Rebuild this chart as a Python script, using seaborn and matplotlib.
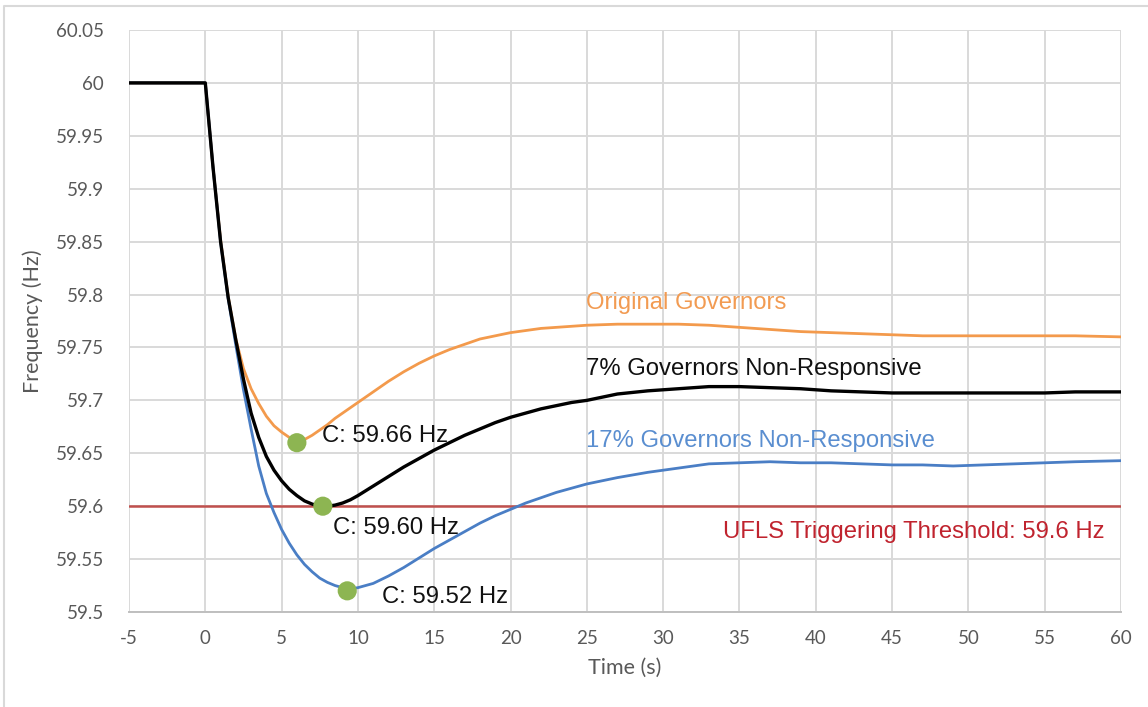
import matplotlib
matplotlib.use("Agg")
import matplotlib.pyplot as plt
from matplotlib.lines import Line2D
import numpy as np
import pandas as pd
import seaborn as sns

# Simulated frequency response after a generation trip
time_s = [-5, 0, 0.5, 1, 1.5, 2, 2.5, 3, 3.5, 4, 4.5, 5, 5.5, 6, 6.5, 7, 7.5, 8,
          8.5, 9, 9.5, 10, 11, 12, 13, 14, 15, 16, 17, 18, 19, 20, 21, 22, 23,
          24, 25, 27, 29, 31, 33, 35, 37, 39, 41, 43, 45, 47, 49, 51, 53, 55,
          57, 60]

freq_original = [60.0, 60.0, 59.921, 59.852, 59.798, 59.758, 59.730, 59.711,
                 59.697, 59.685, 59.676, 59.670, 59.665, 59.662, 59.663, 59.667,
                 59.672, 59.677, 59.683, 59.688, 59.693, 59.698, 59.708, 59.718,
                 59.727, 59.735, 59.742, 59.748, 59.753, 59.758, 59.761, 59.764,
                 59.766, 59.768, 59.769, 59.770, 59.771, 59.772, 59.772, 59.772,
                 59.771, 59.769, 59.767, 59.765, 59.764, 59.763, 59.762, 59.761,
                 59.761, 59.761, 59.761, 59.761, 59.761, 59.760]

freq_7pct = [60.0, 60.0, 59.921, 59.850, 59.797, 59.757, 59.720, 59.688, 59.665,
             59.647, 59.634, 59.624, 59.616, 59.610, 59.605, 59.602, 59.600,
             59.600, 59.601, 59.603, 59.606, 59.610, 59.619, 59.628, 59.637,
             59.645, 59.653, 59.660, 59.667, 59.673, 59.679, 59.684, 59.688,
             59.692, 59.695, 59.698, 59.700, 59.706, 59.709, 59.711, 59.713,
             59.713, 59.712, 59.711, 59.709, 59.708, 59.707, 59.707, 59.707,
             59.707, 59.707, 59.707, 59.708, 59.708]

freq_17pct = [60.0, 60.0, 59.921, 59.850, 59.796, 59.752, 59.710, 59.673, 59.638,
              59.612, 59.594, 59.578, 59.565, 59.554, 59.545, 59.538, 59.532,
              59.528, 59.525, 59.523, 59.522, 59.523, 59.527, 59.534, 59.542,
              59.551, 59.560, 59.568, 59.576, 59.584, 59.591, 59.597, 59.603,
              59.608, 59.613, 59.617, 59.621, 59.627, 59.632, 59.636, 59.640,
              59.641, 59.642, 59.641, 59.641, 59.640, 59.639, 59.639, 59.638,
              59.639, 59.640, 59.641, 59.642, 59.643]

series_names = ["Original Governors", "7% Governors Non-Responsive",
                "17% Governors Non-Responsive"]

# Nadir points (time, frequency) and their labels
nadir_time = [6.0, 7.7, 9.3]
nadir_freq = [59.66, 59.60, 59.52]
nadir_text = ["C: 59.66 Hz", "C: 59.60 Hz", "C: 59.52 Hz"]

ufls_threshold = 59.6
ufls_text = "UFLS Triggering Threshold: 59.6 Hz"

x_ticks = [-5, 0, 5, 10, 15, 20, 25, 30, 35, 40, 45, 50, 55, 60]
y_ticks = [59.5, 59.55, 59.6, 59.65, 59.7, 59.75, 59.8, 59.85, 59.9, 59.95,
           60.0, 60.05]

df = pd.DataFrame({
    "Time (s)": time_s * 3,
    "Frequency (Hz)": freq_original + freq_7pct + freq_17pct,
    "Case": sum([[n] * len(time_s) for n in series_names], []),
})

line_colors = {series_names[0]: "#F39A4C",
               series_names[1]: "#000000",
               series_names[2]: "#4A7EC5"}
text_colors = ["#F29B52", "#111111", "#5A8ED0"]
red_line = "#C0504D"
red_text = "#C0232E"
marker_green = "#8DB552"
grid_grey = "#D9D9D9"
tick_grey = "#595959"

sns.set_theme(style="white")
plt.rcParams["font.family"] = ["Lato", "DejaVu Sans"]

fig = plt.figure(figsize=(11.48, 7.07), dpi=100)
ax = fig.add_axes([129 / 1148, 1 - 612 / 707, (1121 - 129) / 1148, (612 - 30) / 707])

ax.set_xlim(-5, 60)
ax.set_ylim(59.5, 60.05)
ax.set_xticks(x_ticks)
ax.set_yticks(y_ticks)
ax.grid(True, color=grid_grey, linewidth=1.4)
ax.set_axisbelow(True)
for side in ["top", "right", "left"]:
    ax.spines[side].set_visible(False)
ax.spines["bottom"].set_color("#BFBFBF")
ax.spines["bottom"].set_linewidth(1.4)

ax.axhline(ufls_threshold, color=red_line, linewidth=1.8, zorder=2)

# orange first, then blue, black on top
sns.lineplot(data=df, x="Time (s)", y="Frequency (Hz)", hue="Case",
             palette=line_colors,
             hue_order=[series_names[0], series_names[2], series_names[1]],
             linewidth=2.0, legend=False, ax=ax, zorder=3)
for ln in ax.get_lines():
    if ln.get_color() in ("#000000", "k"):
        ln.set_linewidth(2.4)
        ln.set_zorder(4)

sns.scatterplot(x=nadir_time, y=nadir_freq, color=marker_green, s=190,
                edgecolor="none", ax=ax, zorder=5, legend=False)

label_font = ["Liberation Sans", "DejaVu Sans"]
label_size = 17.2
label_pos = [(24.95, 59.792), (24.95, 59.730), (24.95, 59.662)]
for (lx, ly), name, c in zip(label_pos, series_names, text_colors):
    ax.text(lx, ly, name, color=c, fontsize=label_size, family=label_font,
            ha="left", va="center", zorder=6)

nadir_label_pos = [(7.65, 59.666), (8.35, 59.579), (11.6, 59.514)]
for (lx, ly), t in zip(nadir_label_pos, nadir_text):
    ax.text(lx, ly, t, color="#111111", fontsize=label_size, family=label_font,
            ha="left", va="center", zorder=6)

ax.text(33.9, 59.576, ufls_text, color=red_text, fontsize=label_size,
        family=label_font, ha="left", va="center", zorder=6)

ax.set_xticklabels([str(v) for v in x_ticks])
ax.set_yticklabels([f"{v:.2f}".rstrip("0").rstrip(".") for v in y_ticks])
ax.tick_params(axis="both", length=0, labelsize=13.5, labelcolor=tick_grey)
ax.tick_params(axis="y", pad=18)
ax.tick_params(axis="x", pad=13)
ax.set_xlabel("Time (s)", fontsize=15.5, color=tick_grey, labelpad=8)
ax.set_ylabel("Frequency (Hz)", fontsize=15.5, color=tick_grey, labelpad=9)

# light frame along the top and left edges of the figure
fig.add_artist(Line2D([4 / 1148, 4 / 1148, 1.0], [0.0, 1 - 6 / 707, 1 - 6 / 707],
                      transform=fig.transFigure, color="#D9D9D9", linewidth=1.5))

fig.savefig("out.png", dpi=100, facecolor="white")
